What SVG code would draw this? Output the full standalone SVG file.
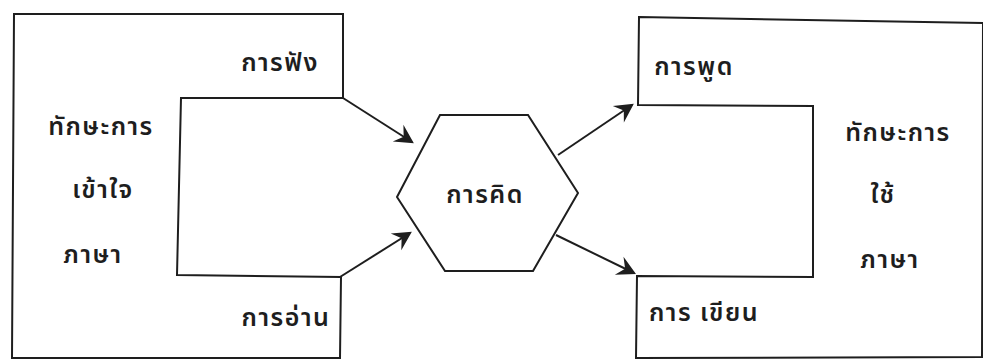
<svg xmlns="http://www.w3.org/2000/svg" width="983" height="361" viewBox="0 0 983 361">
<defs>
<style>
.shape{fill:none;stroke:#1e1e1e;stroke-width:2;stroke-linejoin:miter}
.conn{fill:none;stroke:#1e1e1e;stroke-width:2}
.t{font-family:"Noto Sans Thai","Noto Sans","DejaVu Sans",sans-serif;font-size:25px;font-weight:600;fill:#1e1e1e;letter-spacing:1.5px;text-anchor:middle;dominant-baseline:central}
</style>
<marker id="arr" markerUnits="userSpaceOnUse" markerWidth="22" markerHeight="22" viewBox="0 0 20 20" refX="16" refY="10" orient="auto">
<path d="M1,1 L18,10 L1,19 L7,10 Z" fill="#1e1e1e"/>
</marker>
</defs>
<rect width="983" height="361" fill="#ffffff"/>
<g id="left-box">
<polygon class="shape" points="14,14 343,14 343,98 181,98 177,275 341,277 340,358 12,358"/>
<text class="t" x="280" y="63">การฟัง</text>
<text class="t" x="101" y="127">ทักษะการ</text>
<text class="t" x="103" y="190">เข้าใจ</text>
<text class="t" x="93" y="255">ภาษา</text>
<text class="t" x="286" y="318">การอ่าน</text>
</g>
<g id="thinking">
<polygon class="shape" points="440,115 528,115 578,193 533,271 445,271 397,197"/>
<text class="t" x="485" y="195">การคิด</text>
</g>
<g id="right-box">
<polygon class="shape" points="639,17 983,23 982,357 636,358 637,276 813,277 813,106 638,105"/>
<text class="t" x="694" y="67">การพูด</text>
<text class="t" x="898" y="133">ทักษะการ</text>
<text class="t" x="883" y="195">ใช้</text>
<text class="t" x="890" y="260">ภาษา</text>
<text class="t" x="704" y="313">การ เขียน</text>
</g>
<g id="connectors">
<line class="conn" x1="343" y1="98" x2="412" y2="142" marker-end="url(#arr)"/>
<line class="conn" x1="340" y1="277" x2="410" y2="233" marker-end="url(#arr)"/>
<line class="conn" x1="558" y1="155" x2="632" y2="105" marker-end="url(#arr)"/>
<line class="conn" x1="556" y1="235" x2="634" y2="273" marker-end="url(#arr)"/>
</g>
</svg>
